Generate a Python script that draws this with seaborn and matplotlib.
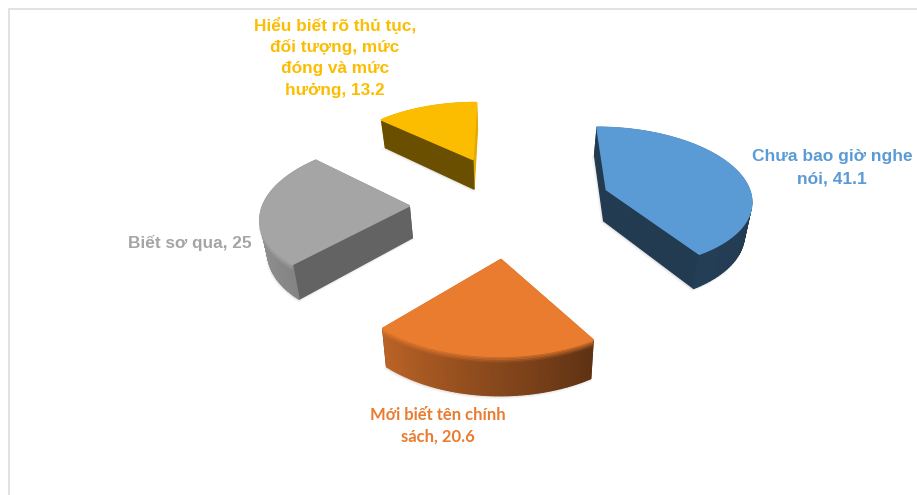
import numpy as np
import matplotlib
matplotlib.use("Agg")
import matplotlib.pyplot as plt
from matplotlib.collections import PolyCollection
from matplotlib.colors import to_rgb
import seaborn as sns

# Survey shares, clockwise from twelve o'clock
categories = ["Chưa bao giờ nghe nói", "Mới biết tên chính sách",
              "Biết sơ qua", "Hiểu biết rõ thủ tục, đối tượng, mức đóng và mức hưởng"]
values = [41.1, 20.6, 25, 13.2]
label_lines = [["Chưa bao giờ nghe", "nói, 41.1"],
               ["Mới biết tên chính", "sách, 20.6"],
               ["Biết sơ qua, 25"],
               ["Hiểu biết rõ thủ tục,", "đối tượng, mức", "đóng và mức", "hưởng, 13.2"]]
label_centers = [(832, 168), (438, 426), (190, 243), (335, 58)]
label_fonts = [["Liberation Sans"], ["Lato", "Liberation Sans"], ["Liberation Sans"], ["Liberation Sans"]]
label_sizes = [12.5, 12.0, 12.4, 12.4]
line_gaps = [23, 22, 0, 22]
colors = sns.color_palette(["#5B9BD5", "#EA7C30", "#A5A5A5", "#FCBD00"])

# Side-wall brightness: radial wall at the start and end of each slice
wall_start = [0.38, 0.5, 0.6, 0.42]
wall_end = [0.38, 0.4, 0.6, 0.9]
rim_glow = [0.0, 0.3, 0.3, 0.0]

# Perspective camera on the pie
CX, CY = 511, 203.5
RX, RY, PERSP = 146, 72, 0.111
EXPLODE_X, EXPLODE_Y = 0.695, 0.72
THICK = 32
TAPER = 0.03


def project(x, y, z=0.0):
    w = 1 + PERSP * np.asarray(y)
    sx = RX * np.asarray(x) / w
    sy = RY * np.asarray(y) / w
    drop = THICK * z / w
    return CX + sx * (1 - TAPER * z), CY - sy + drop


def rim_shade(theta):
    return np.interp(theta, [0, 90, 148, 222, 267, 312, 360],
                     [0.38, 0.38, 0.40, 0.80, 0.92, 0.80, 0.8])


sns.set_theme(style="white")
fig = plt.figure(figsize=(9.17, 4.95), dpi=100)
ax = fig.add_axes([0, 0, 1, 1])
ax.set_xlim(0, 917)
ax.set_ylim(495, 0)
ax.axis("off")

# Chart-area frame, running off the right and bottom edges
ax.plot([8.5, 8.5, 917], [495, 9, 9], color="#E2E2E2", lw=1.4, solid_joinstyle="miter")

total = sum(values)
edges = np.cumsum([0] + [v / total * 360 for v in values])

for i, color in enumerate(colors):
    start, stop = edges[i], edges[i + 1]
    mid = np.radians((start + stop) / 2)
    ox, oy = EXPLODE_X * np.sin(mid), EXPLODE_Y * np.cos(mid)
    theta = np.linspace(start, stop, 90)
    rad = np.radians(theta)
    wx, wy = ox + np.sin(rad), oy + np.cos(rad)
    base = np.array(to_rgb(color))

    # very faint contact shadow hugging the underside
    bx, by = project(np.r_[ox, wx], np.r_[oy, wy], 1.04)
    ax.fill(bx - 1, by, color="#000000", alpha=0.05, lw=2, zorder=1)

    quads, faces, depth = [], [], []
    for a in range(len(theta) - 1):
        tx0, ty0 = project(wx[a:a + 2], wy[a:a + 2], 0.0)
        bx0, by0 = project(wx[a:a + 2], wy[a:a + 2], 1.0)
        quads.append(np.c_[np.r_[tx0, bx0[::-1]], np.r_[ty0, by0[::-1]]])
        faces.append(np.clip(base * rim_shade((theta[a] + theta[a + 1]) / 2), 0, 1))
        depth.append((wy[a] + wy[a + 1]) / 2)
    for end_x, end_y, shade in ((wx[0], wy[0], wall_start[i]), (wx[-1], wy[-1], wall_end[i])):
        xs, ys = np.array([ox, end_x]), np.array([oy, end_y])
        tx0, ty0 = project(xs, ys, 0.0)
        bx0, by0 = project(xs, ys, 1.0)
        quads.append(np.c_[np.r_[tx0, bx0[::-1]], np.r_[ty0, by0[::-1]]])
        faces.append(base * shade)
        depth.append((oy + end_y) / 2)
    order = np.argsort(depth)[::-1]
    ax.add_collection(PolyCollection([quads[j] for j in order],
                                     facecolors=[faces[j] for j in order],
                                     edgecolors=[faces[j] for j in order],
                                     linewidths=0.9, zorder=2))

    # soft bevel where the rim rounds over into the wall
    if rim_glow[i] > 0:
        front = np.cos(rad) < 0.35
        gx, gy = project(wx[front], wy[front], 0.0)
        for drop, fade in ((1.0, 1.0), (2.5, 0.75), (4.0, 0.45), (5.5, 0.2)):
            ax.plot(gx, gy + drop, color=color, alpha=rim_glow[i] * fade * 2, lw=1.6, zorder=2.5,
                    solid_capstyle="butt")

    # top face, with an edge of its own colour to cover the wall seams
    tx, ty = project(np.r_[ox, wx], np.r_[oy, wy], 0.0)
    ax.fill(tx, ty, facecolor=color, edgecolor=color, lw=1.3, joinstyle="round", zorder=3)

    # data label
    lx, ly = label_centers[i]
    lines = label_lines[i]
    for n, line in enumerate(lines):
        ax.text(lx, ly + (n - (len(lines) - 1) / 2) * line_gaps[i], line,
                color=color, family=label_fonts[i], fontsize=label_sizes[i],
                fontweight="bold", ha="center", va="center", zorder=5)

fig.savefig("out.png", dpi=100)
